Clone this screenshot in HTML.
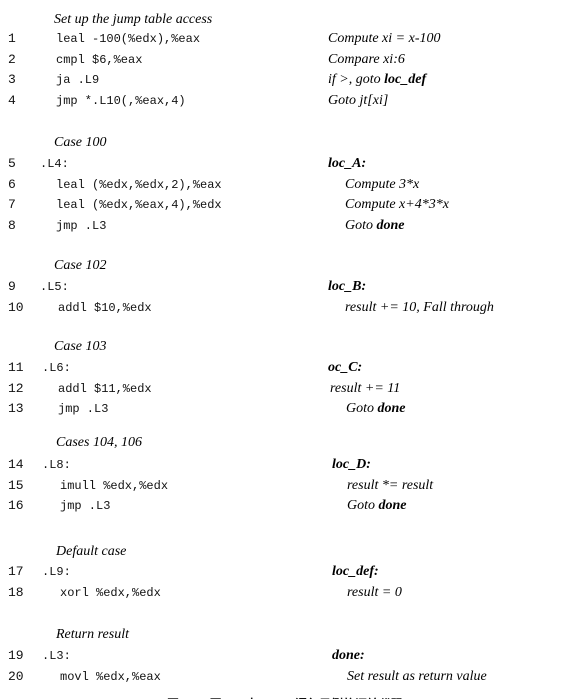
<!DOCTYPE html>
<html><head><meta charset="utf-8"><style>
html,body{margin:0;padding:0;background:#fff;width:577px;height:699px;overflow:hidden;position:relative}
.m,.s,.n{position:absolute;white-space:pre;line-height:16px;color:#111}
.m{font-family:"Liberation Mono",monospace;font-size:12px}
.n{font-family:"Liberation Mono",monospace;font-size:13px}
.s{font-family:"Liberation Serif",serif;font-style:italic;font-size:14px;color:#000}
b{font-weight:bold}
.cap{position:absolute;left:167px;top:695px;font-family:"Liberation Sans","Noto Sans CJK SC",sans-serif;font-size:12px;font-weight:bold;white-space:pre;color:#111}
</style></head><body>
<div class="s" style="left:54px;top:12px">Set up the jump table access</div>
<div class="n" style="left:8px;top:31px">1</div><div class="m" style="left:56px;top:31px">leal -100(%edx),%eax</div><div class="s" style="left:328px;top:31px">Compute xi = x-100</div>
<div class="n" style="left:8px;top:52px">2</div><div class="m" style="left:56px;top:52px">cmpl $6,%eax</div><div class="s" style="left:328px;top:52px">Compare xi:6</div>
<div class="n" style="left:8px;top:72px">3</div><div class="m" style="left:56px;top:72px">ja .L9</div><div class="s" style="left:328px;top:72px">if &gt;, goto <b>loc_def</b></div>
<div class="n" style="left:8px;top:93px">4</div><div class="m" style="left:56px;top:93px">jmp *.L10(,%eax,4)</div><div class="s" style="left:328px;top:93px">Goto jt[xi]</div>

<div class="s" style="left:54px;top:135px">Case 100</div>
<div class="n" style="left:8px;top:156px">5</div><div class="m" style="left:40px;top:156px">.L4:</div><div class="s" style="left:328px;top:156px"><b>loc_A:</b></div>
<div class="n" style="left:8px;top:177px">6</div><div class="m" style="left:56px;top:177px">leal (%edx,%edx,2),%eax</div><div class="s" style="left:345px;top:177px">Compute 3*x</div>
<div class="n" style="left:8px;top:197px">7</div><div class="m" style="left:56px;top:197px">leal (%edx,%eax,4),%edx</div><div class="s" style="left:345px;top:197px">Compute x+4*3*x</div>
<div class="n" style="left:8px;top:218px">8</div><div class="m" style="left:56px;top:218px">jmp .L3</div><div class="s" style="left:345px;top:218px">Goto <b>done</b></div>

<div class="s" style="left:54px;top:258px">Case 102</div>
<div class="n" style="left:8px;top:279px">9</div><div class="m" style="left:40px;top:279px">.L5:</div><div class="s" style="left:328px;top:279px"><b>loc_B:</b></div>
<div class="n" style="left:8px;top:300px">10</div><div class="m" style="left:58px;top:300px">addl $10,%edx</div><div class="s" style="left:345px;top:300px">result += 10, Fall through</div>

<div class="s" style="left:54px;top:339px">Case 103</div>
<div class="n" style="left:8px;top:360px">11</div><div class="m" style="left:42px;top:360px">.L6:</div><div class="s" style="left:328px;top:360px"><b>oc_C:</b></div>
<div class="n" style="left:8px;top:381px">12</div><div class="m" style="left:58px;top:381px">addl $11,%edx</div><div class="s" style="left:330px;top:381px">result += 11</div>
<div class="n" style="left:8px;top:401px">13</div><div class="m" style="left:58px;top:401px">jmp .L3</div><div class="s" style="left:346px;top:401px">Goto <b>done</b></div>

<div class="s" style="left:56px;top:435px">Cases 104, 106</div>
<div class="n" style="left:8px;top:457px">14</div><div class="m" style="left:42px;top:457px">.L8:</div><div class="s" style="left:332px;top:457px"><b>loc_D:</b></div>
<div class="n" style="left:8px;top:478px">15</div><div class="m" style="left:60px;top:478px">imull %edx,%edx</div><div class="s" style="left:347px;top:478px">result *= result</div>
<div class="n" style="left:8px;top:498px">16</div><div class="m" style="left:60px;top:498px">jmp .L3</div><div class="s" style="left:347px;top:498px">Goto <b>done</b></div>

<div class="s" style="left:56px;top:544px">Default case</div>
<div class="n" style="left:8px;top:564px">17</div><div class="m" style="left:42px;top:564px">.L9:</div><div class="s" style="left:332px;top:564px"><b>loc_def:</b></div>
<div class="n" style="left:8px;top:585px">18</div><div class="m" style="left:60px;top:585px">xorl %edx,%edx</div><div class="s" style="left:347px;top:585px">result = 0</div>

<div class="s" style="left:56px;top:627px">Return result</div>
<div class="n" style="left:8px;top:648px">19</div><div class="m" style="left:42px;top:648px">.L3:</div><div class="s" style="left:332px;top:648px"><b>done:</b></div>
<div class="n" style="left:8px;top:669px">20</div><div class="m" style="left:60px;top:669px">movl %edx,%eax</div><div class="s" style="left:347px;top:669px">Set result as return value</div>

<div class="cap">图3-14  图3-15中switch语句示例的汇编代码</div>
</body></html>
